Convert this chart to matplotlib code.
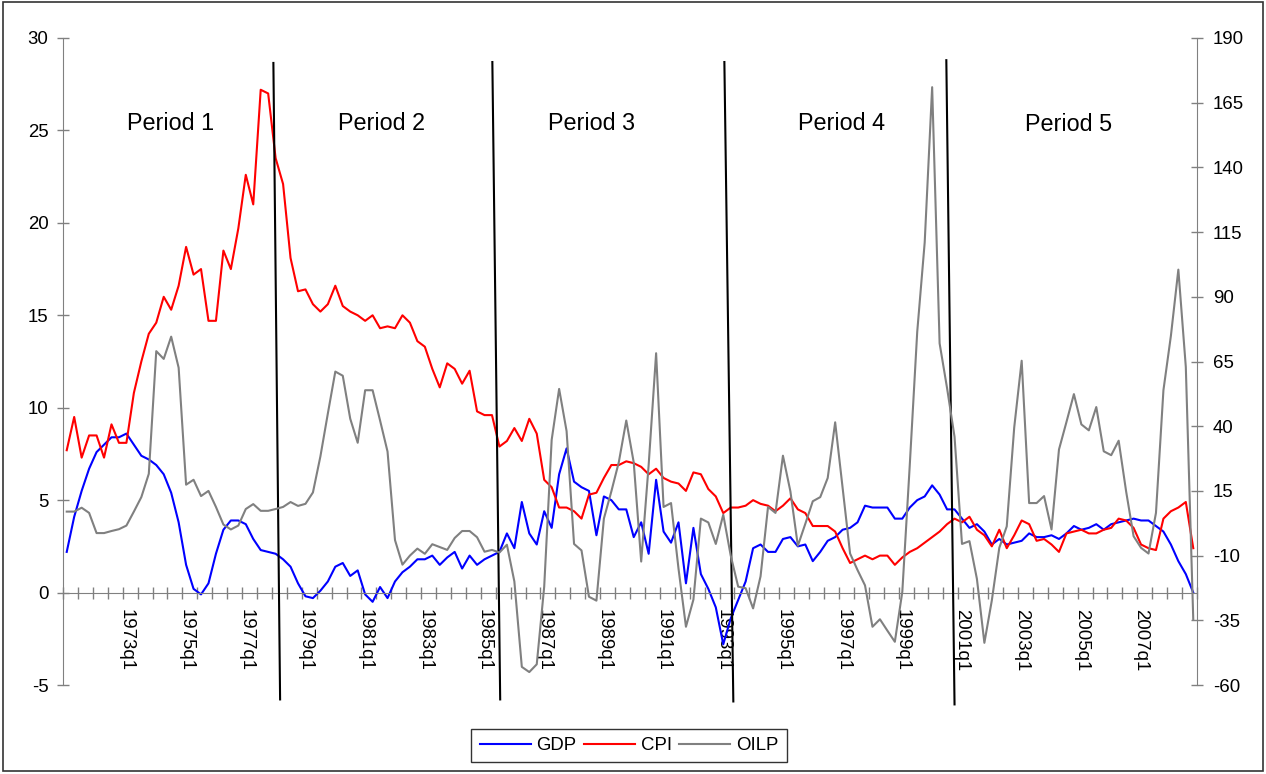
import numpy as np
import matplotlib
matplotlib.use('Agg')
import matplotlib.pyplot as plt
from matplotlib.patches import Rectangle

plt.rcParams['font.family'] = ['Liberation Sans', 'DejaVu Sans']
plt.rcParams['axes.unicode_minus'] = False

# quarterly growth rates, 1971q1 .. 2008q4
gdp = [2.2, 4.1, 5.5, 6.7, 7.6, 8.0, 8.4, 8.4, 8.6, 8.0,
       7.4, 7.2, 6.9, 6.4, 5.4, 3.8, 1.5, 0.2, -0.1, 0.5,
       2.1, 3.4, 3.9, 3.9, 3.7, 2.9, 2.3, 2.2, 2.1, 1.8,
       1.4, 0.5, -0.2, -0.3, 0.1, 0.6, 1.4, 1.6, 0.9, 1.2,
       -0.1, -0.5, 0.3, -0.3, 0.6, 1.1, 1.4, 1.8, 1.8, 2.0,
       1.5, 1.9, 2.2, 1.3, 2.0, 1.5, 1.8, 2.0, 2.2, 3.2,
       2.4, 4.9, 3.2, 2.6, 4.4, 3.5, 6.4, 7.8, 6.0, 5.7,
       5.5, 3.1, 5.2, 5.0, 4.5, 4.5, 3.0, 3.8, 2.1, 6.1,
       3.3, 2.7, 3.8, 0.5, 3.5, 1.0, 0.2, -0.8, -2.8, -1.4,
       -0.4, 0.6, 2.4, 2.6, 2.2, 2.2, 2.9, 3.0, 2.5, 2.6,
       1.7, 2.2, 2.8, 3.0, 3.4, 3.5, 3.8, 4.7, 4.6, 4.6,
       4.6, 4.0, 4.0, 4.6, 5.0, 5.2, 5.8, 5.3, 4.5, 4.5,
       4.0, 3.5, 3.7, 3.3, 2.6, 2.9, 2.6, 2.7, 2.8, 3.2,
       3.0, 3.0, 3.1, 2.9, 3.2, 3.6, 3.4, 3.5, 3.7, 3.4,
       3.7, 3.8, 3.9, 4.0, 3.9, 3.9, 3.6, 3.3, 2.6, 1.7,
       1.0, 0.0]

cpi = [7.7, 9.5, 7.3, 8.5, 8.5, 7.3, 9.1, 8.1, 8.1, 10.8,
       12.5, 14.0, 14.6, 16.0, 15.3, 16.6, 18.7, 17.2, 17.5, 14.7,
       14.7, 18.5, 17.5, 19.7, 22.6, 21.0, 27.2, 27.0, 23.5, 22.1,
       18.1, 16.3, 16.4, 15.6, 15.2, 15.6, 16.6, 15.5, 15.2, 15.0,
       14.7, 15.0, 14.3, 14.4, 14.3, 15.0, 14.6, 13.6, 13.3, 12.1,
       11.1, 12.4, 12.1, 11.3, 12.0, 9.8, 9.6, 9.6, 7.9, 8.2,
       8.9, 8.2, 9.4, 8.6, 6.1, 5.7, 4.6, 4.6, 4.4, 4.0,
       5.3, 5.4, 6.2, 6.9, 6.9, 7.1, 7.0, 6.8, 6.4, 6.7,
       6.2, 6.0, 5.9, 5.5, 6.5, 6.4, 5.6, 5.2, 4.3, 4.6,
       4.6, 4.7, 5.0, 4.8, 4.7, 4.4, 4.7, 5.1, 4.5, 4.3,
       3.6, 3.6, 3.6, 3.3, 2.4, 1.6, 1.8, 2.0, 1.8, 2.0,
       2.0, 1.5, 1.9, 2.2, 2.4, 2.7, 3.0, 3.3, 3.7, 4.0,
       3.8, 4.1, 3.4, 3.1, 2.5, 3.4, 2.4, 3.1, 3.9, 3.7,
       2.8, 2.9, 2.6, 2.2, 3.2, 3.3, 3.4, 3.2, 3.2, 3.4,
       3.5, 4.0, 3.9, 3.5, 2.6, 2.4, 2.3, 4.0, 4.4, 4.6,
       4.9, 2.4]

oilp = [7, 7, 8.5, 6.5, -1.3, -1.3, -0.5, 0.2, 1.6, 7,
        12.6, 21.6, 69, 66, 74.6, 62.6, 17.4, 19.3, 13, 15,
        8.8, 2, 0.1, 1.6, 8, 9.9, 7.3, 7.3, 8, 8.8,
        10.7, 9.2, 10, 14.4, 28.3, 44.9, 61.1, 59.5, 42.9, 33.6,
        53.9, 53.9, 42.2, 30.2, -4, -13.5, -10, -7.3, -9.3, -5.6,
        -6.7, -7.8, -3.2, -0.5, -0.5, -2.9, -8.5, -7.8, -8.8, -5.8,
        -20, -53, -55, -52, -22, 34.7, 54.4, 38.1, -5.5, -8,
        -25.9, -27.4, 4.3, 14.8, 26.1, 42.2, 26, -12.3, 25, 68.2,
        8.8, 10.3, -15, -37.5, -27, 4.3, 2.8, -5.5, 5.8, -10,
        -22, -22.6, -30.4, -18, 8.8, 6.5, 28.6, 14.8, -6.2, 2.3,
        11, 12.6, 20, 41.5, 16, -9.2, -15.6, -21.5, -37.5, -34.6,
        -39, -43.3, -24, 25, 76.5, 111, 171, 72, 54.7, 35.9,
        -5.5, -4.4, -19, -43.7, -27.3, -7, 1.3, 39.5, 65.3, 10.3,
        10.3, 13, 0.1, 31, 41.6, 52.4, 40.7, 38.4, 47.4, 30.3,
        28.8, 34.4, 14.8, -2.5, -7, -9.2, 6.5, 53.9, 74.9, 100.5,
        62.9, -34.8]

quarters = [f'{y}q{q}' for y in range(1971, 2009) for q in range(1, 5)]
xlabels = ['1973q1', '1975q1', '1977q1', '1979q1', '1981q1', '1983q1',
           '1985q1', '1987q1', '1989q1', '1991q1', '1993q1', '1995q1',
           '1997q1', '1999q1', '2001q1', '2003q1', '2005q1', '2007q1']

periods = ['Period 1', 'Period 2', 'Period 3', 'Period 4', 'Period 5']
period_x = [13.9, 42.2, 70.4, 103.8, 134.3]
period_y = [25.4, 25.4, 25.4, 25.4, 25.3]

# slanted dividers between periods (x at top, x at bottom; y in left-axis units)
div_x_top = [27.7, 57.05, 88.15, 117.9]
div_x_bot = [28.6, 58.1, 89.35, 119.0]
div_y_top = [28.65, 28.7, 28.7, 28.8]
div_y_bot = [-5.78, -5.78, -5.89, -6.05]

W, H = 1266, 774
fig = plt.figure(figsize=(W / 100, H / 100), dpi=100)
fig.patches.append(Rectangle((3 / W, 3 / H), 1260 / W, 769.5 / H,
                             transform=fig.transFigure, fill=False,
                             edgecolor='#333333', lw=1.2))

ax = fig.add_axes([63 / W, 89 / H, 1134 / W, 647 / H])
x = np.arange(len(gdp))
l1, = ax.plot(x, gdp, color='#0000ff', lw=1.5, label='GDP')
l2, = ax.plot(x, cpi, color='#ff0000', lw=1.5, label='CPI')

ax2 = ax.twinx()
l3, = ax2.plot(x, oilp, color='#808080', lw=1.5, label='OILP')

ax.set_xlim(-0.5, len(gdp) - 0.5)
ax.set_ylim(-5, 30)
ax2.set_ylim(-60, 190)
ax.set_yticks(range(-5, 31, 5))
ax2.set_yticks(range(-60, 191, 25))

ax.set_xticks(np.arange(-0.5, len(gdp), 2))
ax.set_xticklabels([])
ax.set_xticks([quarters.index(q) for q in xlabels], minor=True)
ax.set_xticklabels(xlabels, minor=True)

axis_grey = '#808080'
for s in ['top', 'right']:
    ax.spines[s].set_visible(False)
for s in ['top', 'bottom', 'left']:
    ax2.spines[s].set_visible(False)
ax.spines['bottom'].set_position(('data', 0))
ax.spines['bottom'].set_color(axis_grey)
ax.spines['left'].set_color(axis_grey)
ax2.spines['right'].set_color(axis_grey)

ax.tick_params(axis='x', which='major', direction='inout', length=8,
               color=axis_grey, width=1)
ax.tick_params(axis='x', which='minor', length=0, pad=12,
               labelrotation=-90, labelsize=13.4)
ax.tick_params(axis='y', direction='inout', length=8, color=axis_grey,
               width=1, labelsize=13.4, pad=6.4)
ax2.tick_params(axis='y', direction='inout', length=8, color=axis_grey,
                width=1, labelsize=13.4, pad=7.5)

for name, px, py in zip(periods, period_x, period_y):
    ax.text(px, py, name, ha='center', va='center', fontsize=16.8)

for xt, xb, yt, yb in zip(div_x_top, div_x_bot, div_y_top, div_y_bot):
    ax.plot([xt, xb], [yt, yb], color='black', lw=1.5, clip_on=False,
            zorder=5)

leg = fig.legend([l1, l2, l3], ['GDP', 'CPI', 'OILP'], loc='center',
                 bbox_to_anchor=(629 / W, 1 - 745.5 / H), ncol=3,
                 fontsize=13.4, frameon=True, fancybox=False,
                 edgecolor='black', handlelength=2.75, handletextpad=0.3,
                 columnspacing=0.4, borderpad=0.45, borderaxespad=0)
leg.get_frame().set_linewidth(1.0)

fig.savefig('out.png', dpi=100)
